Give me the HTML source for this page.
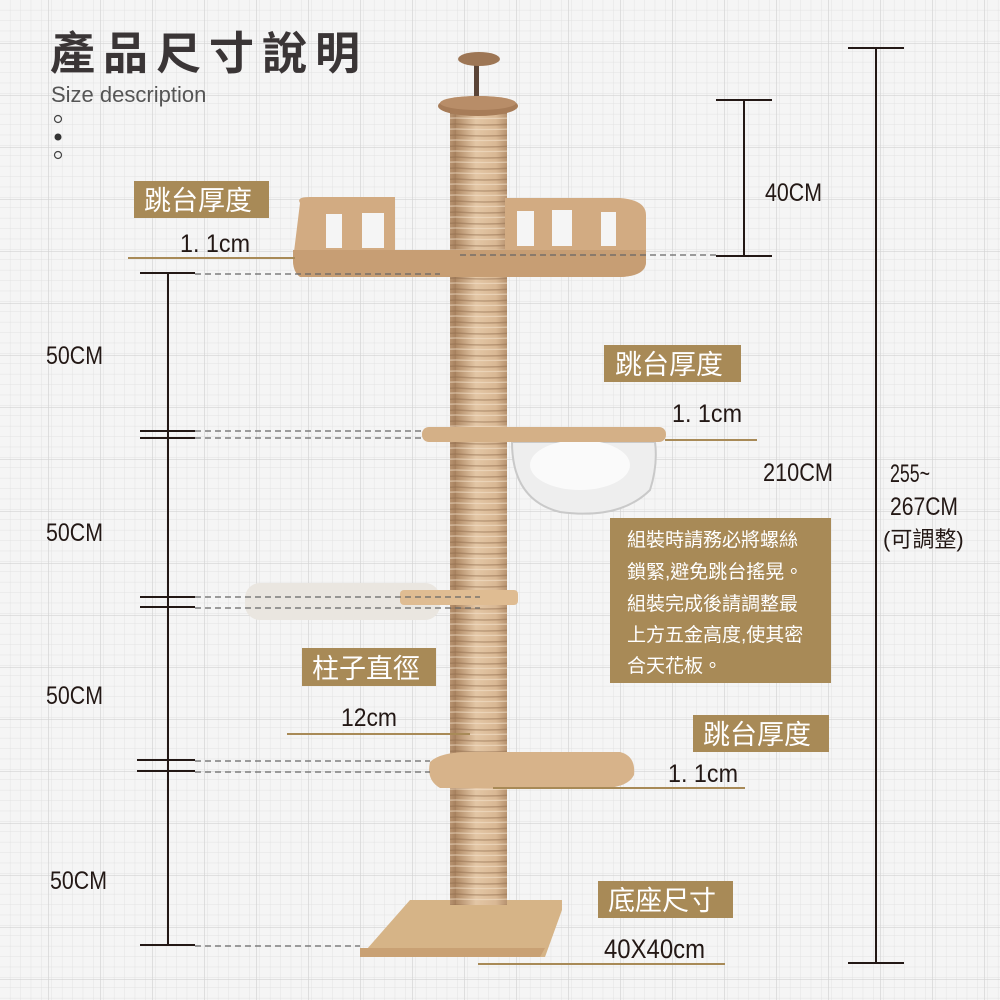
<!DOCTYPE html>
<html><head><meta charset="utf-8"><style>
html,body{margin:0;padding:0;width:1000px;height:1000px;overflow:hidden;background:#f5f5f5}
svg{display:block}
.cjk{font-family:"Liberation Sans","Noto Sans CJK TC",sans-serif}
.n{font-family:"Liberation Sans","Noto Sans CJK TC",sans-serif;fill:#231815}
.lb{fill:#fff;font-size:27px}
</style></head><body>
<svg width="1000" height="1000" viewBox="0 0 1000 1000" xmlns="http://www.w3.org/2000/svg">
<defs>
<pattern id="gm" width="10.4" height="10.4" patternUnits="userSpaceOnUse"><path d="M10.4 0V10.4H0" fill="none" stroke="#e2e2e2" stroke-width="1"/></pattern>
<pattern id="gM" width="52" height="52" patternUnits="userSpaceOnUse" x="-3" y="-8"><path d="M52 0V52H0" fill="none" stroke="#d2d2d2" stroke-width="1.3"/></pattern>
<linearGradient id="pole" x1="0" x2="1"><stop offset="0" stop-color="#b08a66"/><stop offset=".35" stop-color="#e3c6a5"/><stop offset=".7" stop-color="#d9b894"/><stop offset="1" stop-color="#a57f5d"/></linearGradient>
<pattern id="rope" width="57" height="11" patternUnits="userSpaceOnUse"><rect width="57" height="11" fill="url(#pole)"/><path d="M0 3Q28 5 57 3" stroke="#8f6a4b" stroke-width="1.4" fill="none" opacity=".45"/><path d="M0 8Q28 9 57 8" stroke="#f2dfc8" stroke-width="1.2" fill="none" opacity=".6"/></pattern>
</defs>
<rect width="1000" height="1000" fill="#f5f5f5"/>
<rect width="1000" height="1000" fill="url(#gm)"/>
<rect width="1000" height="1000" fill="url(#gM)"/>

<text x="50" y="69" class="cjk" font-size="45" font-weight="bold" fill="#3a3536" textLength="310" lengthAdjust="spacing">產品尺寸說明</text>
<text x="51" y="102" font-family="Liberation Sans,sans-serif" font-size="22" fill="#555">Size description</text>
<circle cx="58" cy="119" r="3.5" fill="none" stroke="#444" stroke-width="1.2"/>
<circle cx="58" cy="137" r="3.5" fill="#333"/>
<circle cx="58" cy="155" r="3.5" fill="none" stroke="#444" stroke-width="1.2"/>

<!-- tree -->
<rect x="474" y="60" width="5" height="38" fill="#5b4538"/>
<ellipse cx="479" cy="59" rx="21" ry="7" fill="#9d7655"/>
<rect x="450" y="105" width="57" height="800" fill="url(#rope)"/>
<ellipse cx="478" cy="106" rx="40" ry="10" fill="#a77c58"/>
<ellipse cx="478" cy="103" rx="38" ry="7" fill="#b88d68"/>
<path d="M300 203Q296 197 310 197H395V250H460V250H505V198H620Q646 200 646 215V262Q646 276 620 277H470Q440 276 420 274H300Q293 272 293 260Z" fill="#d2ab82"/>
<path d="M293 250H646V262Q646 276 620 277H300Q293 272 293 260Z" fill="#c79e74"/>
<g fill="#f5f5f5"><rect x="326" y="214" width="16" height="34"/><rect x="362" y="213" width="22" height="35"/><rect x="517" y="211" width="17" height="35"/><rect x="552" y="210" width="20" height="36"/><rect x="601" y="212" width="15" height="34"/></g>
<path d="M512 442Q512 500 560 512Q620 520 650 490Q658 465 655 442Z" fill="#eee" stroke="#c9c9c9" stroke-width="2"/>
<ellipse cx="580" cy="465" rx="50" ry="25" fill="#fafafa"/>
<rect x="422" y="427" width="244" height="15" rx="7" fill="#d4b087"/>
<rect x="245" y="583" width="195" height="37" rx="15" fill="#eae6e0"/>
<rect x="400" y="590" width="118" height="15" rx="4" fill="#dfbc92"/>
<path d="M430 762Q440 752 470 752H620Q636 756 634 775Q628 787 605 788H440Q426 780 430 762Z" fill="#d7b38a"/>
<path d="M410 900H562V910L545 957H360Z" fill="#d6b487"/>
<path d="M360 948H545L540 957H360Z" fill="#c9a174"/>
<rect x="450" y="860" width="57" height="45" fill="url(#rope)"/>

<g stroke="#231815" stroke-width="2">
<line x1="168" y1="273" x2="168" y2="945"/>
<line x1="140" y1="273" x2="195" y2="273"/>
<line x1="140" y1="431" x2="195" y2="431"/><line x1="140" y1="438" x2="195" y2="438"/>
<line x1="140" y1="597" x2="195" y2="597"/><line x1="140" y1="607" x2="195" y2="607"/>
<line x1="137" y1="760" x2="195" y2="760"/><line x1="137" y1="771" x2="195" y2="771"/>
<line x1="140" y1="945" x2="195" y2="945"/>
</g>
<g stroke="#666" stroke-width="1.2" stroke-dasharray="6 4">
<line x1="195" y1="274" x2="440" y2="274"/>
<line x1="195" y1="431" x2="425" y2="431"/><line x1="195" y1="438" x2="425" y2="438"/>
<line x1="195" y1="597" x2="480" y2="597"/><line x1="195" y1="608" x2="480" y2="608"/>
<line x1="195" y1="761" x2="430" y2="761"/><line x1="195" y1="772" x2="430" y2="772"/>
<line x1="195" y1="946" x2="360" y2="946"/>
<line x1="460" y1="255" x2="716" y2="255"/>
</g>
<g class="n" font-size="25">
<text x="46" y="364" textLength="57" lengthAdjust="spacingAndGlyphs">50CM</text>
<text x="46" y="541" textLength="57" lengthAdjust="spacingAndGlyphs">50CM</text>
<text x="46" y="704" textLength="57" lengthAdjust="spacingAndGlyphs">50CM</text>
<text x="50" y="889" textLength="57" lengthAdjust="spacingAndGlyphs">50CM</text>
<text x="765" y="201" textLength="57" lengthAdjust="spacingAndGlyphs">40CM</text>
<text x="763" y="481" textLength="70" lengthAdjust="spacingAndGlyphs">210CM</text>
<text x="890" y="482" textLength="40" lengthAdjust="spacingAndGlyphs">255~</text>
<text x="890" y="515" textLength="68" lengthAdjust="spacingAndGlyphs">267CM</text>
<text x="180" y="252" textLength="70" lengthAdjust="spacingAndGlyphs">1. 1cm</text>
<text x="672" y="422" textLength="70" lengthAdjust="spacingAndGlyphs">1. 1cm</text>
<text x="341" y="726" textLength="56" lengthAdjust="spacingAndGlyphs">12cm</text>
<text x="668" y="782" textLength="70" lengthAdjust="spacingAndGlyphs">1. 1cm</text>
<text x="604" y="958" font-size="27" textLength="101" lengthAdjust="spacingAndGlyphs">40X40cm</text>
</g>
<g stroke="#231815" stroke-width="2">
<line x1="744" y1="100" x2="744" y2="256"/>
<line x1="716" y1="100" x2="772" y2="100"/><line x1="716" y1="256" x2="772" y2="256"/>
<line x1="876" y1="48" x2="876" y2="963"/>
<line x1="848" y1="48" x2="904" y2="48"/><line x1="848" y1="963" x2="904" y2="963"/>
</g>
<text x="883" y="547" class="cjk" font-size="22" fill="#231815">(可調整)</text>

<g fill="#a88a57">
<rect x="134" y="181" width="135" height="37"/>
<rect x="604" y="345" width="137" height="37"/>
<rect x="302" y="648" width="134" height="38"/>
<rect x="693" y="715" width="136" height="37"/>
<rect x="598" y="881" width="135" height="37"/>
<rect x="610" y="518" width="221" height="165"/>
</g>
<g class="cjk lb">
<text x="144" y="210">跳台厚度</text>
<text x="615" y="374">跳台厚度</text>
<text x="312" y="678">柱子直徑</text>
<text x="703" y="744">跳台厚度</text>
<text x="608" y="910">底座尺寸</text>
</g>
<g class="cjk" font-size="19" fill="#fff">
<text x="627" y="546">組裝時請務必將螺絲</text>
<text x="627" y="578">鎖緊,避免跳台搖晃。</text>
<text x="627" y="610">組裝完成後請調整最</text>
<text x="627" y="641">上方五金高度,使其密</text>
<text x="627" y="672">合天花板。</text>
</g>
<g stroke="#a88a57" stroke-width="2">
<line x1="128" y1="258" x2="295" y2="258"/>
<line x1="665" y1="440" x2="757" y2="440"/>
<line x1="287" y1="734" x2="470" y2="734"/>
<line x1="493" y1="788" x2="745" y2="788"/>
<line x1="478" y1="964" x2="725" y2="964"/>
</g>
</svg>
</body></html>
